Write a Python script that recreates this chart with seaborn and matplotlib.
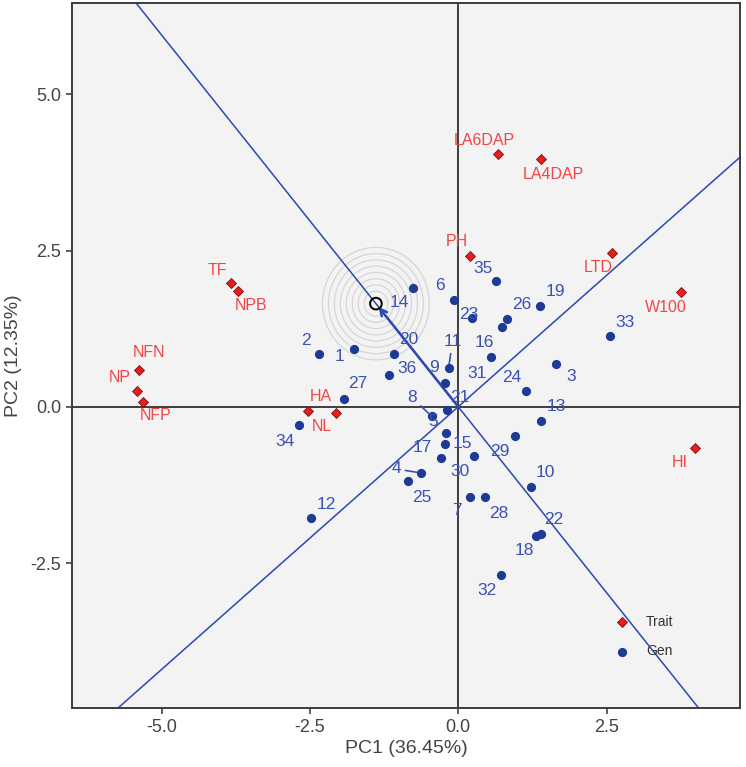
import numpy as np
import pandas as pd
import matplotlib
matplotlib.use('Agg')
from matplotlib import pyplot as plt
from matplotlib.patches import Circle
import seaborn as sns

# genotype scores (PC1, PC2)
gen_ids = [str(i) for i in range(1, 37)]
gen_pc1 = [-1.757, -2.342, 1.646, -0.628, -0.212, -0.072, 0.192, -0.448, -0.229, 1.230,
           -0.162, -2.477, 1.393, -0.758, -0.229, 0.731, -0.297, 1.309, 1.382, -1.088,
           -0.195, 1.393, 0.239, 1.141, -0.848, 0.829, -1.931, 0.455, 0.955, 0.270,
           0.551, 0.719, 2.556, -2.684, 0.630, -1.173]
gen_pc2 = [0.925, 0.845, 0.680, -1.059, -0.419, 1.715, -1.443, -0.152, 0.376, -1.277,
           0.627, -1.784, -0.232, 1.901, -0.592, 1.272, -0.819, -2.061, 1.608, 0.840,
           -0.056, -2.040, 1.416, 0.248, -1.192, 1.411, 0.131, -1.443, -0.461, -0.787,
           0.792, -2.691, 1.128, -0.288, 2.013, 0.509]

# trait scores
traits = ["LA6DAP", "LA4DAP", "PH", "LTD", "W100", "HI", "TF", "NPB",
          "NFN", "NP", "NFP", "HA", "NL"]
trait_pc1 = [0.67, 1.39, 0.197, 2.59, 3.75, 3.99, -3.83, -3.71, -5.38, -5.42, -5.32, -2.54, -2.06]
trait_pc2 = [4.04, 3.96, 2.42, 2.46, 1.83, -0.66, 1.98, 1.86, 0.595, 0.248, 0.077, -0.067, -0.099]

# ideal point
ideal = (-1.387, 1.65)

# label offsets in pixels (layout only)
gen_off = [(-14, -8), (-13, 13), (15, -12), (-25, 4), (-12, 11), (-14, 14), (-13, -14), (-20, 19),
           (-11, 16), (14, 14), (4, 26), (15, 14), (15, 15), (-14, -15), (18, 0), (-17, -15),
           (-18, 10), (-12, -15), (15, 15), (15, 15), (13, 13), (13, 15), (-4, 4), (-14, 14),
           (14, -16), (14, 14), (14, 15), (14, -17), (-15, -16), (-14, -16), (-14, -16), (-14, -16),
           (15, 14), (-14, -17), (-13, 12), (18, 6)]
leader = {"4", "8", "11"}
trait_off = [(-14, 14), (13, -15), (-13, 14), (-14, -14), (-15, -15), (-15, -14), (-14, 13),
             (13, -15), (10, 17), (-17, 14), (13, -14), (13, 14), (-14, -14)]

gen_df = pd.DataFrame({"PC1": gen_pc1, "PC2": gen_pc2, "id": gen_ids})
trait_df = pd.DataFrame({"PC1": trait_pc1, "PC2": trait_pc2, "id": traits})

sns.set_style("white")
plt.rcParams['font.family'] = ['Liberation Sans', 'DejaVu Sans']

navy = "#1d3a94"
lblue = "#3a52b2"
lineblue = "#2a48b4"
red = "#e61e1e"
tred = "#f24545"

fig = plt.figure(figsize=(7.46, 7.67), dpi=100)
ax = fig.add_axes([72 / 746, 1 - 708 / 767, 668 / 746, 705 / 767])
ax.set_facecolor("#f3f3f3")

ax.set_xlim(-6.51, 4.75)
ax.set_ylim(-4.82, 6.46)

# concentric rings around ideal point
for r in np.arange(0.1, 0.95, 0.1):
    ax.add_patch(Circle(ideal, r, fill=False, ec="#d6d6d6", lw=0.9, zorder=1))

ax.axhline(0, color="#303030", lw=1.3, zorder=1.5)
ax.axvline(0, color="#303030", lw=1.3, zorder=1.5)
ax.axline((0, 0), ideal, color=lineblue, lw=1.1, zorder=2)
ax.axline((0, 0), (ideal[1], -ideal[0]), color=lineblue, lw=1.1, zorder=2)
ax.annotate("", xy=ideal, xytext=(0, 0),
            arrowprops=dict(arrowstyle="->", color=lineblue, lw=1.8, shrinkA=0, shrinkB=3,
                            mutation_scale=12), zorder=2)
ax.scatter([ideal[0]], [ideal[1]], s=70, facecolors="none", edgecolors="black", linewidths=1.4, zorder=5)

sns.scatterplot(data=gen_df, x="PC1", y="PC2", ax=ax, marker="o", s=44, color=navy,
                edgecolor=navy, linewidth=0, label="Gen", zorder=4)
sns.scatterplot(data=trait_df, x="PC1", y="PC2", ax=ax, marker="D", s=26, color=red,
                edgecolor="#7a1010", linewidth=0.6, label="Trait", zorder=4)

for _, row in gen_df.iterrows():
    dx, dy = gen_off[int(row["id"]) - 1]
    props = None
    if row["id"] in leader:
        props = dict(arrowstyle="-", color=lblue, lw=1.2, shrinkA=1, shrinkB=3)
    ax.annotate(row["id"], (row["PC1"], row["PC2"]), xytext=(dx, dy), textcoords="offset pixels",
                ha="center", va="center", fontsize=12.5, color=lblue, arrowprops=props, zorder=6)

for i, row in trait_df.iterrows():
    dx, dy = trait_off[i]
    ax.annotate(row["id"], (row["PC1"], row["PC2"]), xytext=(dx, dy), textcoords="offset pixels",
                ha="center", va="center", fontsize=11.5, color=tred, zorder=6)

handles, labels = ax.get_legend_handles_labels()
ax.legend(handles[::-1], labels[::-1], frameon=False, loc="upper left",
          bbox_to_anchor=(608 / 746, 1 - 615 / 767), bbox_transform=fig.transFigure,
          fontsize=10, labelspacing=1.1, handletextpad=0.75, borderpad=0, borderaxespad=0,
          labelcolor="#333333")

ax.set_xticks([-5.0, -2.5, 0.0, 2.5])
ax.set_yticks([-2.5, 0.0, 2.5, 5.0])
ax.set_xticklabels(["-5.0", "-2.5", "0.0", "2.5"])
ax.set_yticklabels(["-2.5", "0.0", "2.5", "5.0"])
ax.tick_params(axis="both", direction="out", length=4.5, width=1.2, color="#444444",
               labelsize=13, labelcolor="#444444", bottom=True, left=True)
ax.set_xlabel("PC1 (36.45%)", fontsize=14, color="#444444", labelpad=3)
ax.set_ylabel("PC2 (12.35%)", fontsize=14, color="#444444", labelpad=6)
for s in ax.spines.values():
    s.set_color("#3c3c3c")
    s.set_linewidth(1.4)

fig.savefig("out.png", dpi=100)
